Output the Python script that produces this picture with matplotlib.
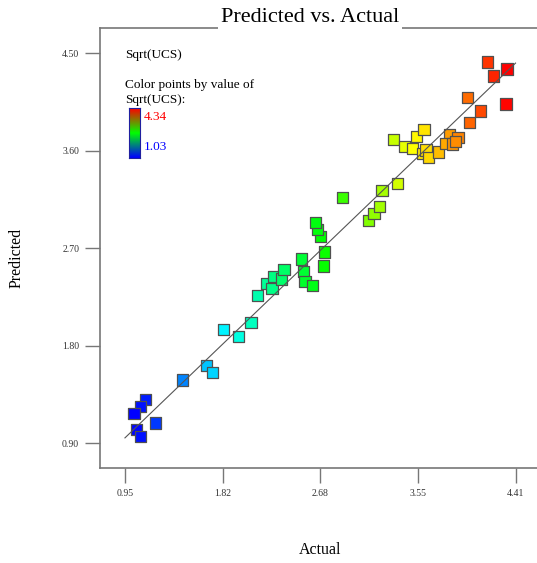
import matplotlib.pyplot as plt
import numpy as np
from matplotlib.colors import LinearSegmentedColormap, Normalize

plt.rcParams['font.family'] = ['Liberation Serif', 'DejaVu Serif']

# actual vs predicted Sqrt(UCS)
actual = [1.130, 1.086, 1.030, 1.054, 1.086, 1.218, 1.461, 1.673, 1.727, 1.820,
          1.957, 2.066, 2.125, 2.205, 2.252, 2.263, 2.337, 2.360, 2.511, 2.529,
          2.546, 2.612, 2.706, 2.715, 2.683, 2.653, 2.635, 2.878, 3.110, 3.155,
          3.208, 3.226, 3.367, 3.329, 3.426, 3.500, 3.533, 3.600, 3.586, 3.618,
          3.636, 3.728, 3.828, 3.790, 3.852, 3.901, 3.878, 3.984, 4.005, 4.099,
          4.161, 4.217, 4.335, 4.326]
predicted = [1.306, 1.238, 1.177, 1.029, 0.961, 1.087, 1.484, 1.616, 1.552, 1.952,
             1.884, 2.013, 2.266, 2.373, 2.331, 2.438, 2.417, 2.506, 2.601, 2.484,
             2.392, 2.358, 2.537, 2.666, 2.807, 2.875, 2.940, 3.171, 2.955, 3.019,
             3.084, 3.235, 3.296, 3.706, 3.638, 3.623, 3.734, 3.799, 3.577, 3.607,
             3.536, 3.589, 3.752, 3.669, 3.663, 3.721, 3.688, 4.094, 3.860, 3.967,
             4.420, 4.291, 4.355, 4.032]

xticks = [0.95, 1.82, 2.68, 3.55, 4.41]
yticks = [0.90, 1.80, 2.70, 3.60, 4.50]
cmin, cmax = 1.03, 4.34

pts_cmap = LinearSegmentedColormap.from_list(
    "pts", [(0, (0, 0, 1)), (0.25, (0, 1, 1)), (0.5, (0, 1, 0)),
            (0.75, (1, 1, 0)), (1, (1, 0, 0))])
bar_cmap = LinearSegmentedColormap.from_list("bar", [(0, 0, 1), (0, 1, 0), (1, 0, 0)])

W, H = 537, 563
fig = plt.figure(figsize=(W / 100, H / 100), dpi=100)
ax = fig.add_axes([100 / W, 1 - 468 / H, 1 - 100 / W, (468 - 28) / H])

ax.scatter(actual, predicted, c=actual, cmap=pts_cmap, norm=Normalize(cmin, cmax),
           marker='s', s=66, edgecolors='#505050', linewidths=0.9, zorder=2)
ax.plot([xticks[0], xticks[-1]], [xticks[0], xticks[-1]], color='#555555', lw=0.8, zorder=3)

ax.set_xlim(0.729, 4.60)
ax.set_ylim(0.672, 4.734)
ax.set_xticks(xticks)
ax.set_xticklabels(["%.2f" % v for v in xticks])
ax.set_yticks(yticks)
ax.set_yticklabels(["%.2f" % v for v in yticks])
ax.tick_params(direction='out', length=11, width=1, color='#777777',
               labelsize=7, labelcolor='#333333', pad=4)
for side in ['left', 'bottom', 'top']:
    ax.spines[side].set_color('#777777')
    ax.spines[side].set_linewidth(1.2)
ax.spines['right'].set_visible(False)

fig.text(310 / W, 1 - 18 / H, "Predicted vs. Actual", fontsize=16, ha='center', va='center',
         bbox=dict(facecolor='white', edgecolor='none', pad=2))
fig.text(17 / W, 1 - 258 / H, "Predicted", fontsize=11.5, rotation=90, ha='center', va='center')
fig.text(320 / W, 1 - 550 / H, "Actual", fontsize=11.5, ha='center', va='center')

# colour legend
fig.text(125 / W, 1 - 55 / H, "Sqrt(UCS)", fontsize=9.5, va='center')
fig.text(125 / W, 1 - 85 / H, "Color points by value of", fontsize=9.5, va='center')
fig.text(125 / W, 1 - 100 / H, "Sqrt(UCS):", fontsize=9.5, va='center')
fig.text(144 / W, 1 - 117 / H, "%.2f" % cmax, fontsize=9.5, va='center', color='#ff0000')
fig.text(144 / W, 1 - 147 / H, "%.2f" % cmin, fontsize=9.5, va='center', color='#0000ff')
cax = fig.add_axes([128.5 / W, 1 - 158 / H, 11.5 / W, 50 / H])
grad = np.linspace(1, 0, 100).reshape(-1, 1)
cax.imshow(grad, cmap=bar_cmap, aspect='auto')
cax.set_xticks([])
cax.set_yticks([])
for s in cax.spines.values():
    s.set_color('#2020a0')
    s.set_linewidth(0.8)

plt.savefig("out.png")
